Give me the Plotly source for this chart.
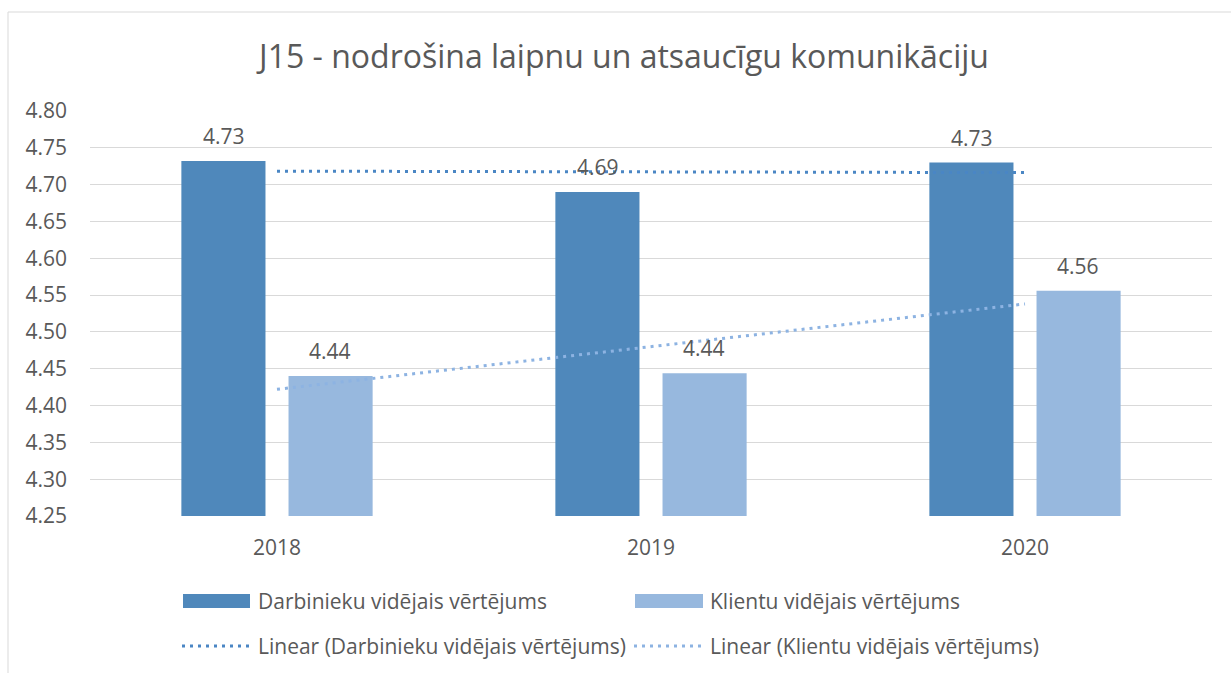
import numpy as np
import plotly.graph_objects as go

categories = ["2018", "2019", "2020"]
darbinieki = [4.732, 4.690, 4.730]
klienti = [4.440, 4.444, 4.556]
title_text = "J15 - nodrošina laipnu un atsaucīgu komunikāciju"
legend_labels = ["Darbinieku vidējais vērtējums", "Klientu vidējais vērtējums",
                 "Linear (Darbinieku vidējais vērtējums)", "Linear (Klientu vidējais vērtējums)"]

W, H = 1231, 673
L, R, T, B = 90, 19, 111, 157
PW, PH = W - L - R, H - T - B

DARK = "#4F88BB"
LIGHT = "#97B8DE"
DARK_TREND = "#4A86C4"
LIGHT_TREND = "#8DB3E2"
TXT = "#595959"
FONT = "Open Sans"

def px2x(px):
    return (px - L) / PW

def px2y(py):
    return (H - B - py) / PH

def trend(vals):
    xs = np.arange(len(vals))
    k, b = np.polyfit(xs, vals, 1)
    return list(k * xs + b)

fig = go.Figure()
fig.add_trace(go.Bar(x=categories, y=darbinieki, marker_color=DARK, marker_line_width=0,
                     name=legend_labels[0]))
fig.add_trace(go.Bar(x=categories, y=klienti, marker_color=LIGHT, marker_line_width=0,
                     name=legend_labels[1]))
fig.add_trace(go.Scatter(x=categories, y=trend(darbinieki), mode="lines",
                         line=dict(color=DARK_TREND, width=3, dash="3px,5px"),
                         name=legend_labels[2]))
fig.add_trace(go.Scatter(x=categories, y=trend(klienti), mode="lines",
                         line=dict(color=LIGHT_TREND, width=3, dash="3px,5px"),
                         name=legend_labels[3]))

annotations = []
for vals, shift in ((darbinieki, -53), (klienti, 53)):
    for i, v in enumerate(vals):
        annotations.append(dict(x=i, y=v, xref="x", yref="y", text=f"{v:.2f}",
                                showarrow=False, xshift=shift, yshift=9, yanchor="bottom",
                                font=dict(family=FONT, size=21, color=TXT)))

# custom legend
shapes = [
    dict(type="rect", xref="paper", yref="paper", x0=px2x(8), x1=1.2, y0=-1, y1=px2y(12),
         line=dict(color="#D9D9D9", width=1), fillcolor="rgba(0,0,0,0)", layer="below"),
    dict(type="rect", xref="paper", yref="paper", x0=px2x(183), x1=px2x(250),
         y0=px2y(608), y1=px2y(594), fillcolor=DARK, line=dict(width=0)),
    dict(type="rect", xref="paper", yref="paper", x0=px2x(635), x1=px2x(703),
         y0=px2y(608), y1=px2y(594), fillcolor=LIGHT, line=dict(width=0)),
    dict(type="line", xref="paper", yref="paper", x0=px2x(182), x1=px2x(250),
         y0=px2y(646), y1=px2y(646), line=dict(color=DARK_TREND, width=3, dash="3px,5px")),
    dict(type="line", xref="paper", yref="paper", x0=px2x(634), x1=px2x(703),
         y0=px2y(646), y1=px2y(646), line=dict(color=LIGHT_TREND, width=3, dash="3px,5px")),
]
for (xpx, ypx), lab in zip([(256, 601), (708, 601), (256, 646), (708, 646)], legend_labels):
    annotations.append(dict(x=px2x(xpx), y=px2y(ypx), xref="paper", yref="paper", text=lab,
                            showarrow=False, xanchor="left", yanchor="middle",
                            font=dict(family=FONT, size=21, color=TXT)))

fig.update_layout(
    width=W, height=H,
    margin=dict(l=L, r=R, t=T, b=B),
    paper_bgcolor="white", plot_bgcolor="white",
    title=dict(text=title_text, x=624 / W, xanchor="center", y=1 - 57 / H, yanchor="middle",
               font=dict(family=FONT, size=32, color=TXT)),
    barmode="group", bargap=0.427, bargroupgap=0.215,
    showlegend=False,
    shapes=shapes, annotations=annotations,
    font=dict(family=FONT, color=TXT),
)
fig.update_xaxes(type="category", range=[-0.5, len(categories) - 0.5],
                 showgrid=False, showline=False, ticks="", zeroline=False,
                 tickfont=dict(family=FONT, size=21, color=TXT), ticklabelstandoff=17)
fig.update_yaxes(range=[4.25, 4.80], dtick=0.05, tick0=4.25, tickformat=".2f",
                 showgrid=True, gridcolor="#D9D9D9", gridwidth=1, zeroline=False,
                 showline=False, ticks="", ticklabelstandoff=22,
                 tickfont=dict(family=FONT, size=21, color=TXT))

fig.write_html("out.html", config={"displayModeBar": False},
               post_script="document.body.style.margin='0';document.body.style.overflow='hidden';")
